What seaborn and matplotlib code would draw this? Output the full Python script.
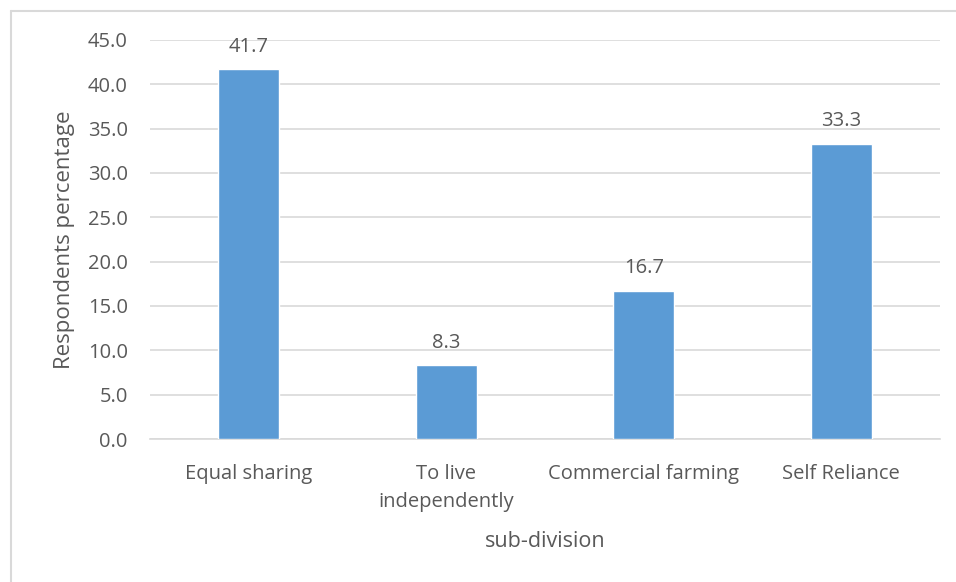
import matplotlib
matplotlib.use("Agg")
import matplotlib.pyplot as plt
import seaborn as sns
import pandas as pd
from matplotlib.lines import Line2D

categories = ["Equal sharing", "To live\nindependently", "Commercial farming", "Self Reliance"]
values = [41.7, 8.3, 16.7, 33.3]
yticks = [0, 5, 10, 15, 20, 25, 30, 35, 40, 45]

sns.set_theme(style="white")
plt.rcParams["font.family"] = ["Open Sans", "DejaVu Sans"]

text_color = "#595959"
grid_color = "#D9D9D9"
bar_color = "#5B9BD5"

df = pd.DataFrame({"category": categories, "value": values})

fig = plt.figure(figsize=(9.56, 5.82), dpi=100)
ax = fig.add_axes([0.1569, 0.2457, 0.8264, 0.6856])

sns.barplot(data=df, x="category", y="value", color=bar_color, width=0.31,
            saturation=1, ax=ax, zorder=3)

ax.set_ylim(0, 45)
ax.set_yticks(yticks)
ax.set_yticklabels([f"{t:.1f}" for t in yticks])
ax.yaxis.grid(True, color=grid_color, linewidth=1.2, zorder=0)
ax.set_axisbelow(True)

for s in ["top", "right", "left"]:
    ax.spines[s].set_visible(False)
ax.spines["bottom"].set_color(grid_color)
ax.spines["bottom"].set_linewidth(1.2)

ax.tick_params(axis="both", length=0, labelsize=14.5, colors=text_color)
ax.tick_params(axis="x", pad=18)
ax.tick_params(axis="y", pad=16)
for lbl in ax.get_xticklabels():
    lbl.set_linespacing(1.5)

for container in ax.containers:
    ax.bar_label(container, fmt="%.1f", padding=9, fontsize=14.5, color=text_color)

ax.set_xlabel("sub-division", fontsize=15.5, color=text_color, labelpad=14)
ax.set_ylabel("Respondents percentage", fontsize=16, color=text_color, labelpad=9)

# chart frame along the top and left edges
frame_kw = dict(color="#D9D9D9", linewidth=1.5, transform=fig.transFigure)
fig.add_artist(Line2D([0.0115, 0.0115], [0.0, 0.981], **frame_kw))
fig.add_artist(Line2D([0.0115, 1.0], [0.981, 0.981], **frame_kw))

fig.savefig("out.png", dpi=100, facecolor="white")
